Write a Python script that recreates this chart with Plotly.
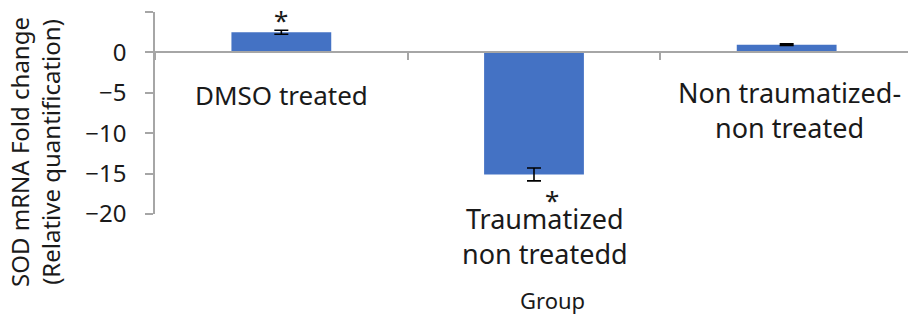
import plotly.graph_objects as go

# Data
categories = ["DMSO treated", "Traumatized non treatedd", "Non traumatized-non treated"]
label_text = ["DMSO treated", "Traumatized<br>non treatedd", "Non traumatized-<br>non treated"]
fold_change = [2.5, -15.1, 0.95]
error_vals = [0.25, 0.8, 0.1]
significant = [True, True, False]
y_ticks = [5, 0, -5, -10, -15, -20]

FONT = "Noto Sans"
AXIS_GRAY = "#a6a6a6"
TEXT = "#1a1a1a"

fig = go.Figure()
fig.add_trace(go.Bar(
    x=categories,
    y=fold_change,
    marker=dict(color="#4472C4", line=dict(width=0)),
    error_y=dict(type="data", array=error_vals, visible=True,
                 color="#000000", thickness=1.6, width=7),
    width=0.395,
    showlegend=False,
))

# Category labels (placed as in the reference)
label_pos = [(0.589, 0, 26), (-0.109, 11, 27), (0.517, 3, 27)]
for cat, txt, (py, xs, fs) in zip(categories, label_text, label_pos):
    fig.add_annotation(x=cat, xref="x", y=py, yref="paper", text=txt,
                       showarrow=False, xshift=xs, align="center",
                       xanchor="center", yanchor="middle",
                       font=dict(family=FONT, size=fs, color=TEXT))

# Significance asterisks
for cat, v, e, s in zip(categories, fold_change, error_vals, significant):
    if s:
        if v >= 0:
            fig.add_annotation(x=cat, y=v + e, text="*", showarrow=False,
                               yanchor="bottom", yshift=-10,
                               font=dict(family=FONT, size=26, color=TEXT))
        else:
            fig.add_annotation(x=cat, y=v - e, text="*", showarrow=False,
                               yanchor="top", xshift=18, yshift=1,
                               font=dict(family=FONT, size=26, color=TEXT))

# Axis titles
fig.add_annotation(x=0, xref="paper", y=0.307, yref="paper",
                   text="SOD mRNA Fold change<br>(Relative quantification)",
                   textangle=-90, showarrow=False, xanchor="center", yanchor="middle",
                   xshift=-120, font=dict(family=FONT, size=24, color=TEXT))
fig.add_annotation(x=0.524, xref="paper", y=-0.426, yref="paper", text="Group",
                   showarrow=False, xanchor="center", yanchor="middle",
                   font=dict(family=FONT, size=22, color=TEXT))

# The page body adds an 8px margin, so the figure is drawn 8px smaller
fig.update_layout(
    width=908, height=312,
    margin=dict(l=147, r=3, t=4, b=106),
    plot_bgcolor="white", paper_bgcolor="white",
    bargap=0.6,
    xaxis=dict(
        type="category", showticklabels=False, showgrid=False,
        showline=True, linecolor=AXIS_GRAY, linewidth=1.5,
        ticks="outside", tickson="boundaries", ticklen=7, tickcolor=AXIS_GRAY,
        tickwidth=1.5, anchor="free", position=0.8, zeroline=False,
        automargin=False,
    ),
    yaxis=dict(
        range=[-20, 5], tickvals=y_ticks, showgrid=False, zeroline=False,
        showline=True, linecolor=AXIS_GRAY, linewidth=1.5,
        ticks="outside", ticklen=8, tickcolor=AXIS_GRAY, tickwidth=1.5,
        ticklabelstandoff=14, automargin=False,
        tickfont=dict(family=FONT, size=24, color=TEXT),
    ),
)

fig.write_html("out.html")
